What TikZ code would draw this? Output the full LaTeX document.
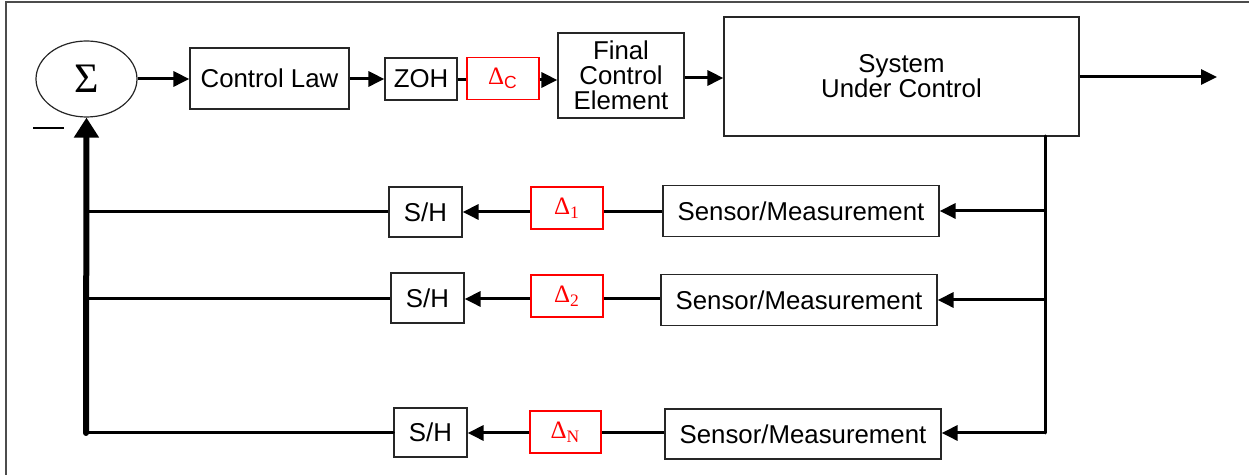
\documentclass[tikz,border=0pt]{standalone}
\usepackage{fontspec}
\setmainfont{Liberation Sans}
\newfontfamily\serfont{Liberation Serif}
\usetikzlibrary{arrows.meta,shapes.geometric}
\begin{document}
\begin{tikzpicture}[x=0.5pt,y=-0.5pt,
  blk/.style={draw=black!85,line width=0.6pt,inner sep=0pt,align=center,
    font=\fontsize{12.9}{12.5}\selectfont},
  dbox/.style={draw=red,line width=0.6pt,inner sep=0pt,text=red,
    font=\serfont\fontsize{12.5}{14}\selectfont,
    minimum width=36pt,minimum height=21pt},
  shbox/.style={blk,minimum width=36.5pt,minimum height=25pt},
  sensbox/.style={blk,minimum width=138pt,minimum height=25.5pt},
  wire/.style={line width=1.5pt},
  flow/.style={wire,-{Triangle[length=8pt,width=7.5pt]}},
  bigflow/.style={line width=3pt,-{Triangle[length=10pt,width=12pt]}}]
\useasboundingbox (0,0) rectangle (1249,475);
\draw[black!70,line width=0.75pt] (6,476) -- (6,2) -- (1250,2);
% forward path
\node[draw=black!85,line width=0.6pt,ellipse,inner sep=0pt,minimum width=50.5pt,minimum height=38pt,
  font=\serfont\fontsize{21}{22}\selectfont] (sum) at (86.5,79) {Σ};
\node[blk,minimum width=79.5pt,minimum height=30.5pt] (cl) at (269.5,78.5) {Control Law};
\node[blk,minimum width=36pt,minimum height=21pt] (zoh) at (421,79) {ZOH};
\node[dbox] (dc) at (503,78.5) {Δ\textsubscript{\fontspec{Liberation Sans}C}};
\node[blk,minimum width=63pt,minimum height=42.5pt] (fce) at (621,75.5) {Final\\Control\\Element};
\node[blk,minimum width=177.5pt,minimum height=59.5pt] (suc) at (901.5,76.5) {System\\Under Control};
\coordinate (out) at (1217,77);
% feedback rows
\node[shbox] (sh1) at (425.5,212) {S/H};
\node[dbox] (d1) at (567,208) {Δ\textsubscript{1}};
\node[sensbox] (s1) at (801,211) {Sensor/Measurement};
\node[shbox] (sh2) at (427.5,298) {S/H};
\node[dbox] (d2) at (567,296) {Δ\textsubscript{2}};
\node[sensbox] (s2) at (799,300) {Sensor/Measurement};
\node[shbox,minimum height=24.5pt] (sh3) at (430.5,432.5) {S/H};
\node[dbox,minimum width=35.5pt] (dN) at (565.5,432) {Δ\textsubscript{N}};
\node[sensbox,minimum height=25pt] (s3) at (803,434) {Sensor/Measurement};
\coordinate (vt) at (1045,136);
\coordinate (vb) at (1045,433);
\coordinate (lb) at (86,433);
\coordinate (l1) at (86,212);
\coordinate (l2) at (86,299);
% connectors forward
\draw[flow] (sum.east |- 0,79) -- (cl.west |- 0,79);
\draw[flow] (cl.east |- 0,79) -- (zoh.west |- 0,79);
\draw[wire] (zoh.east |- 0,80) -- (dc.west |- 0,80);
\draw[flow] (dc.east |- 0,80) -- (fce.west |- 0,80);
\draw[flow] (fce.east |- 0,78) -- (suc.west |- 0,78);
\draw[flow] (suc.east |- out) -- (out);
% feedback
\draw[wire,line cap=round] (vt) -- (vb);
\draw[flow] (vt |- s1.east) -- (s1.east);
\draw[flow] (vt |- s2.east) -- (s2.east);
\draw[flow] (vb) -- (vb -| s3.east);
\draw[wire] (s1.west |- 0,212) -- (d1.east |- 0,212);
\draw[flow] (d1.west |- 0,212) -- (sh1.east |- 0,212);
\draw[wire] (sh1.west |- 0,212) -- (l1);
\draw[wire] (s2.west |- 0,299) -- (d2.east |- 0,299);
\draw[flow] (d2.west |- 0,299) -- (sh2.east |- 0,299);
\draw[wire] (sh2.west |- 0,299) -- (l2);
\draw[wire] (s3.west |- 0,433) -- (dN.east |- 0,433);
\draw[flow] (dN.west |- 0,433) -- (sh3.east |- 0,433);
\draw[wire,line cap=round] (sh3.west |- 0,433) -- (lb);
\draw[bigflow,line cap=round] (lb) -- (sum.south);
% minus sign
\draw[line width=1.3pt] (33,128) -- (64,128);
\end{tikzpicture}
\end{document}
